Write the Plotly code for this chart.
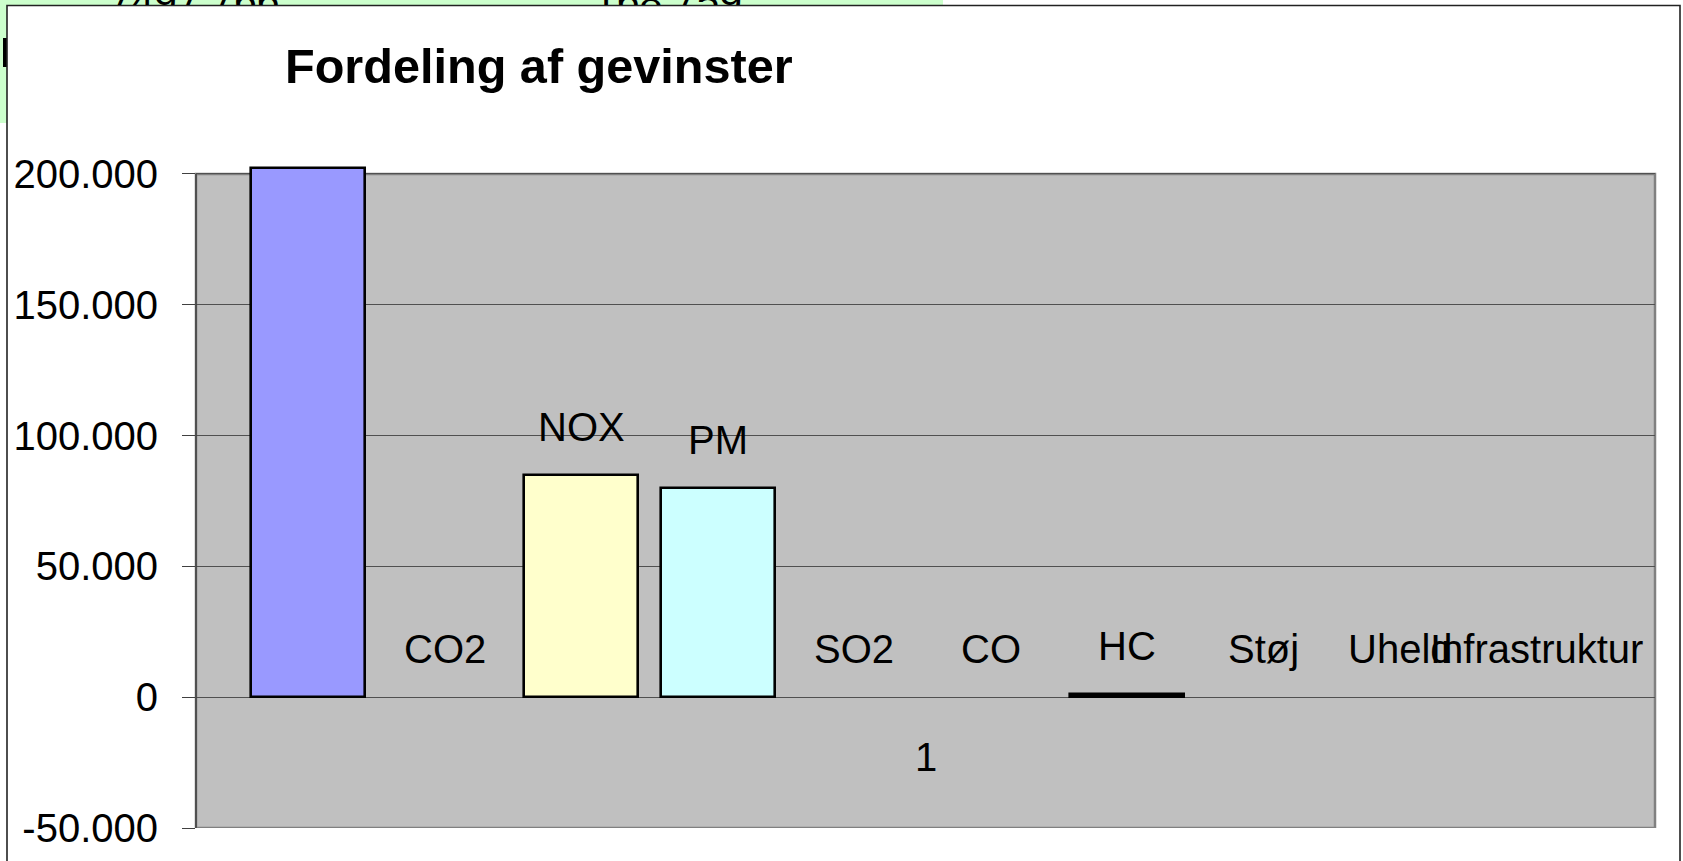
import plotly.graph_objects as go

# ---------------- data ----------------
series_names = ["", "CO2", "NOX", "PM", "SO2", "CO", "HC", "Støj", "Uheld", "Infrastruktur"]
series_values = [202300, 0, 85000, 80000, 0, 0, 1200, 0, 0, 0]
series_colors = ["#9999FF", "#993366", "#FFFFCC", "#CCFFFF", "#660066",
                 "#FF8080", "#000000", "#CCCCFF", "#000080", "#FF00FF"]
category_label = "1"
y_tickvals = [-50000, 0, 50000, 100000, 150000, 200000]
y_ticktext = ["-50.000", "0", "50.000", "100.000", "150.000", "200.000"]
title_text = "Fordeling af gevinster"
# partially hidden worksheet cells behind the chart
cell_texts = ["7497 766", "168 759"]
cell_text_x = [194, 668]

# ---------------- layout constants ----------------
W, H = 1683, 861
FONT = "Arial, Liberation Sans, sans-serif"
x_range = [-0.822, 9.866]
y_range = [-50000, 203000]
plot_left, plot_right = 196, 1655
plot_top_px = 166.1
plot_bottom_px = 828

fig = go.Figure()

xs = list(range(len(series_names)))
fig.add_trace(go.Bar(
    x=xs,
    y=series_values,
    width=0.835,
    marker=dict(
        color=series_colors,
        line=dict(color="black", width=[2.6 if v != 0 else 0 for v in series_values]),
    ),
    hoverinfo="skip",
    showlegend=False,
))

# sliver of worksheet text visible above the chart frame (clipped by subplot 2)
fig.add_trace(go.Scatter(
    x=cell_text_x, y=[5, 5], text=cell_texts, mode="text",
    textfont=dict(family=FONT, size=41, color="black"),
    textposition="middle center",
    xaxis="x2", yaxis="y2", cliponaxis=True, showlegend=False, hoverinfo="skip",
))

annotations = []
for i, (name, v) in enumerate(zip(series_names, series_values)):
    if not name:
        continue
    annotations.append(dict(
        x=i, y=v, xref="x", yref="y", text=name, showarrow=False,
        yanchor="middle", xanchor="center", yshift=48,
        font=dict(family=FONT, size=40, color="black"),
    ))
annotations.append(dict(
    x=0.5, y=0, xref="x domain", yref="y", text=category_label, showarrow=False,
    yanchor="middle", xanchor="center", yshift=-60,
    font=dict(family=FONT, size=40, color="black"),
))
annotations.append(dict(
    x=283 / W, y=1 - 65.5 / H, xref="paper", yref="paper", text="<b>" + title_text + "</b>",
    showarrow=False, xanchor="left", yanchor="middle",
    font=dict(family=FONT, size=48.6, color="black"),
))

shapes = [
    # green worksheet cells behind the chart
    dict(type="rect", xref="paper", yref="paper", x0=0, x1=943 / W, y0=1 - 123 / H, y1=1,
         fillcolor="#CCFFCC", line=dict(width=0), layer="below"),
    dict(type="rect", xref="paper", yref="paper", x0=3 / W, x1=8 / W, y0=1 - 67 / H, y1=1 - 38 / H,
         fillcolor="black", line=dict(width=0), layer="below"),
    # chart frame
    dict(type="rect", xref="paper", yref="paper", x0=7 / W, x1=1680 / W, y0=-0.05, y1=1 - 5.5 / H,
         fillcolor="white", line=dict(color="#222222", width=1.6), layer="below"),
    # plot area
    dict(type="rect", xref="x domain", yref="y", x0=0, x1=1, y0=y_tickvals[0], y1=y_tickvals[-1],
         fillcolor="#C0C0C0", line=dict(color="#808080", width=2.5), layer="below"),
    # value axis line
    dict(type="line", xref="x domain", yref="y", x0=0, x1=0, y0=y_tickvals[0], y1=y_tickvals[-1],
         line=dict(color="#404040", width=1.5), layer="above"),
]

fig.update_layout(
    width=W, height=H,
    margin=dict(l=0, r=0, t=0, b=0),
    paper_bgcolor="white",
    plot_bgcolor="white",
    font=dict(family=FONT, size=40, color="black"),
    bargap=0,
    showlegend=False,
    xaxis=dict(
        domain=[plot_left / W, plot_right / W],
        range=x_range, showgrid=False, zeroline=False, showline=False,
        showticklabels=False, ticks="", fixedrange=True,
    ),
    yaxis=dict(
        domain=[1 - plot_bottom_px / H, 1 - plot_top_px / H],
        range=y_range, tickvals=y_tickvals, ticktext=y_ticktext,
        showgrid=True, gridcolor="#505050", gridwidth=1,
        zeroline=True, zerolinecolor="#505050", zerolinewidth=1.2,
        showline=False, ticks="outside", ticklen=13, tickcolor="#404040", tickwidth=1.3,
        tickfont=dict(family=FONT, size=40, color="black"),
        ticklabelstandoff=16, automargin=False, fixedrange=True,
    ),
    xaxis2=dict(domain=[0, 1], range=[0, W], visible=False, anchor="y2", fixedrange=True),
    yaxis2=dict(domain=[1 - 5 / H, 1], range=[5, 0], visible=False, anchor="x2", fixedrange=True),
    annotations=annotations,
    shapes=shapes,
)

fig.write_html(
    "out.html",
    config={"displayModeBar": False},
    post_script="document.body.style.margin='0';document.body.style.overflow='hidden';",
)
